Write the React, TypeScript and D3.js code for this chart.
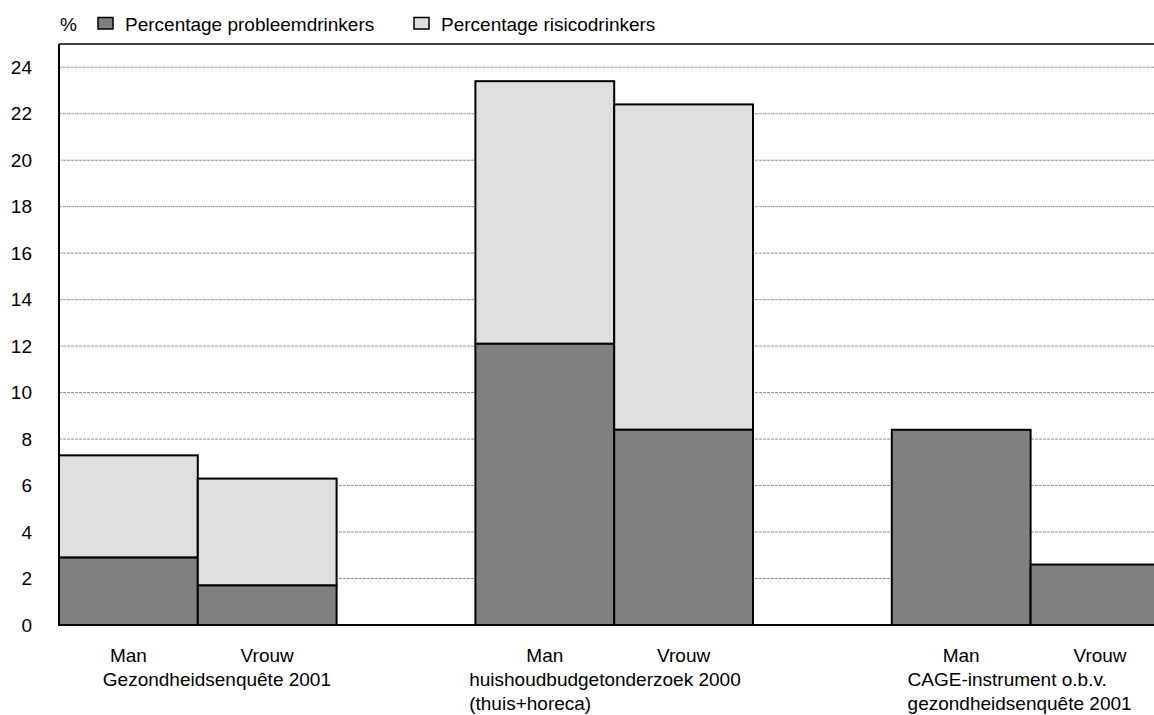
import React from "react";
import * as d3 from "d3";

const groups = [
  ["Gezondheidsenquête 2001"],
  ["huishoudbudgetonderzoek 2000", "(thuis+horeca)"],
  ["CAGE-instrument o.b.v.", "gezondheidsenquête 2001"],
];
const sexes = ["Man", "Vrouw"];
const probleem = [2.9, 1.7, 12.1, 8.4, 8.4, 2.6];
const risico = [4.4, 4.6, 11.3, 14.0, 0, 0];
const yTicks = [0, 2, 4, 6, 8, 10, 12, 14, 16, 18, 20, 22, 24];
const seriesNames = ["Percentage probleemdrinkers", "Percentage risicodrinkers"];
const seriesColors = ["#808080", "#dfdfdf"];

const W = 1154;
const H = 715;
const left = 59;
const top = 44;
const bottom = 625;
const slotW = 138.8;
const groupLabelDx = [-95, -145, -123];
const font = "'Liberation Sans', Arial, sans-serif";

export default function App() {
  const slots: string[] = [];
  groups.forEach((_, gi) => {
    sexes.forEach((s) => slots.push(`${gi}-${s}`));
    if (gi < groups.length - 1) slots.push(`gap${gi}`);
  });
  const x = d3.scaleBand<string>().domain(slots).range([left, left + slotW * slots.length]).padding(0);
  const y = d3.scaleLinear().domain([0, 25]).range([bottom, top]);
  const right = left + slotW * slots.length;

  const bars: { key: string; p: number; r: number; gi: number; s: string }[] = [];
  groups.forEach((_, gi) => sexes.forEach((s, si) => {
    const i = gi * 2 + si;
    bars.push({ key: `${gi}-${s}`, p: probleem[i], r: risico[i], gi, s });
  }));

  return (
    <svg width={W} height={H} style={{ position: "absolute", left: 0, top: 0, background: "#fff" }} fontFamily={font}>
      {/* legend */}
      <text x={60} y={31} fontSize={19} fill="#000">%</text>
      {seriesNames.map((n, i) => {
        const bx = i === 0 ? 98 : 414;
        return (
          <g key={n}>
            <rect x={bx} y={17.5} width={15} height={11.5} fill={seriesColors[i]} stroke="#000" strokeWidth={1.5} />
            <text x={bx + 27} y={31} fontSize={19} fill="#000">{n}</text>
          </g>
        );
      })}
      {/* gridlines */}
      {yTicks.filter((t) => t > 0).map((t) => (
        <line key={t} x1={left} x2={right} y1={y(t)} y2={y(t)} stroke="#909090" strokeWidth={1} strokeDasharray="3,1" />
      ))}
      {/* frame top */}
      <line x1={left} x2={right} y1={top} y2={top} stroke="#000" strokeWidth={1.5} />
      {/* bars */}
      {bars.map((b) => {
        const x0 = x(b.key)!;
        const w = x.bandwidth();
        return (
          <g key={b.key}>
            {b.r > 0 && (
              <rect x={x0} y={y(b.p + b.r)} width={w} height={y(b.p) - y(b.p + b.r)} fill={seriesColors[1]} stroke="#000" strokeWidth={2} />
            )}
            <rect x={x0} y={y(b.p)} width={w} height={y(0) - y(b.p)} fill={seriesColors[0]} stroke="#000" strokeWidth={2} />
          </g>
        );
      })}
      {/* axes */}
      <line x1={left} x2={left} y1={top} y2={bottom} stroke="#000" strokeWidth={2} />
      <line x1={left} x2={right} y1={bottom} y2={bottom} stroke="#000" strokeWidth={2} />
      {yTicks.map((t) => (
        <text key={t} x={32} y={y(t)} dy="0.35em" textAnchor="end" fontSize={19} fill="#000">{t}</text>
      ))}
      {/* category labels */}
      {bars.map((b) => (
        <text key={"l" + b.key} x={x(b.key)! + x.bandwidth() / 2} y={662} textAnchor="middle" fontSize={19} fill="#000">{b.s}</text>
      ))}
      {groups.map((lines, gi) => {
        const bx = x(`${gi}-Vrouw`)! + groupLabelDx[gi];
        return (
          <text key={"g" + gi} x={bx} y={686} fontSize={19} fill="#000">
            {lines.map((ln, li) => (
              <tspan key={li} x={bx} dy={li === 0 ? 0 : 23.5}>{ln}</tspan>
            ))}
          </text>
        );
      })}
    </svg>
  );
}
